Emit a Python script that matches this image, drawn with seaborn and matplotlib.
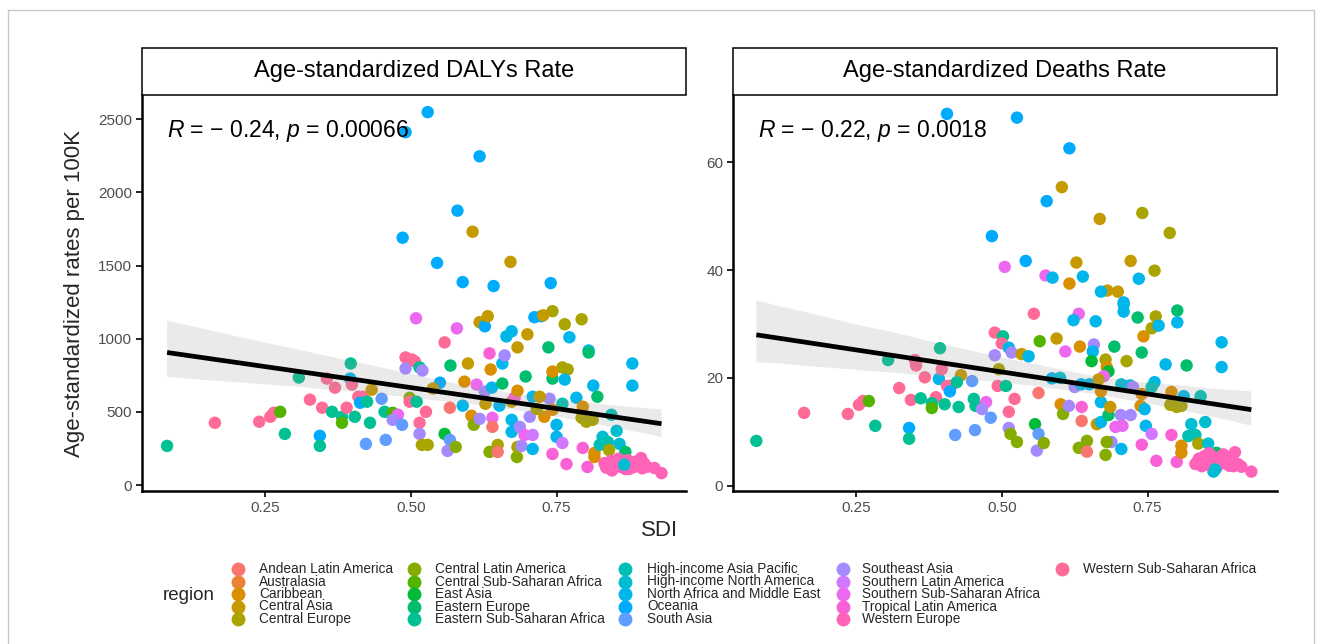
import numpy as np
import pandas as pd
import matplotlib
matplotlib.use("Agg")
import matplotlib.pyplot as plt
from matplotlib.patches import Rectangle
from matplotlib.lines import Line2D
from matplotlib.collections import PolyCollection
import seaborn as sns

# ---------------- data ----------------
region_names = [
    "Andean Latin America", "Australasia", "Caribbean", "Central Asia", "Central Europe",
    "Central Latin America", "Central Sub-Saharan Africa", "East Asia", "Eastern Europe",
    "Eastern Sub-Saharan Africa", "High-income Asia Pacific", "High-income North America",
    "North Africa and Middle East", "Oceania", "South Asia", "Southeast Asia",
    "Southern Latin America", "Southern Sub-Saharan Africa", "Tropical Latin America",
    "Western Europe", "Western Sub-Saharan Africa",
]
region_codes = ["AND", "AUS", "CAR", "CAS", "CEU", "CLA", "CSA", "EAS", "EEU", "ESA", "HAP",
                "HNA", "NAM", "OCE", "SAS", "SEA", "SLA", "SSA", "TLA", "WEU", "WSA"]

# Panel 1: Age-standardized DALYs rate
daly_sdi = [0.082, 0.164, 0.240, 0.259, 0.265, 0.276, 0.284, 0.308, 0.327, 0.344, 0.344, 0.348,
            0.356, 0.365, 0.370, 0.382, 0.382, 0.390, 0.396, 0.397, 0.399, 0.404, 0.410, 0.418,
            0.413, 0.423, 0.425, 0.430, 0.433, 0.450, 0.455, 0.469, 0.478, 0.469, 0.485, 0.457,
            0.491, 0.502, 0.507, 0.491, 0.515, 0.520, 0.498, 0.498, 0.510, 0.509, 0.526, 0.515,
            0.515, 0.519, 0.529, 0.550, 0.558, 0.568, 0.567, 0.558, 0.567, 0.563, 0.577, 0.579,
            0.589, 0.592, 0.598, 0.604, 0.608, 0.613, 0.618, 0.618, 0.627, 0.632, 0.627, 0.628,
            0.635, 0.637, 0.639, 0.640, 0.640, 0.635, 0.649, 0.649, 0.652, 0.657, 0.657, 0.661,
            0.664, 0.673, 0.673, 0.673, 0.673, 0.678, 0.682, 0.683, 0.683, 0.683, 0.687, 0.690,
            0.695, 0.697, 0.700, 0.704, 0.709, 0.709, 0.709, 0.712, 0.724, 0.736, 0.738, 0.743,
            0.743, 0.743, 0.750, 0.764, 0.793, 0.772, 0.805, 0.805, 0.760, 0.769, 0.743, 0.764,
            0.813, 0.820, 0.784, 0.760, 0.795, 0.793, 0.801, 0.812, 0.844, 0.729, 0.750, 0.880,
            0.880, 0.760, 0.767, 0.795, 0.803, 0.815, 0.815, 0.829, 0.853, 0.824, 0.838, 0.858,
            0.868, 0.840, 0.870, 0.529, 0.491, 0.618, 0.580, 0.606, 0.486, 0.545, 0.671, 0.589,
            0.642, 0.740, 0.727, 0.538, 0.721, 0.716, 0.743,
            0.832, 0.838, 0.843, 0.848, 0.852, 0.856, 0.860, 0.864, 0.868, 0.872, 0.876, 0.880,
            0.885, 0.890, 0.895, 0.900, 0.905, 0.918, 0.930, 0.845, 0.858,
            0.835, 0.850, 0.862, 0.874, 0.887, 0.897, 0.866]
daly_region = ["ESA", "WSA", "WSA", "WSA", "WSA", "CSA", "ESA", "ESA", "WSA", "OCE", "ESA", "WSA",
               "WSA", "ESA", "WSA", "ESA", "CSA", "WSA", "NAM", "ESA", "WSA", "ESA", "WSA", "WSA",
               "OCE", "SAS", "ESA", "ESA", "CAS", "SAS", "ESA", "CSA", "SSA", "SEA", "SAS", "SAS",
               "WSA", "WSA", "WSA", "SEA", "ESA", "SEA", "CLA", "WSA", "ESA", "SSA", "WSA", "WSA",
               "SEA", "CEU", "CEU", "OCE", "WSA", "EEU", "AND", "EAS", "SAS", "SEA", "CLA", "SSA",
               "NAM", "CAR", "CAS", "CAR", "CLA", "SSA", "SEA", "CAS", "OCE", "CAS", "SEA", "CAS",
               "TLA", "CAR", "NAM", "SSA", "AND", "CLA", "CEU", "AND", "NAM", "NAM", "EEU", "SEA",
               "NAM", "NAM", "CAS", "NAM", "NAM", "TLA", "CLA", "CEU", "CAS", "CAR", "SEA", "SEA",
               "SSA", "EEU", "CAS", "SEA", "SLA", "NAM", "NAM", "OCE", "OCE", "EEU", "SEA", "CEU",
               "EEU", "TLA", "NAM", "CEU", "CEU", "NAM", "NAM", "EEU", "CEU", "CEU", "CAR", "NAM",
               "NAM", "EEU", "NAM", "HAP", "CAR", "CEU", "CEU", "CEU", "HAP", "CAR", "NAM", "NAM",
               "NAM", "SLA", "TLA", "TLA", "TLA", "CAR", "CAR", "HNA", "HNA", "HAP", "HAP", "HNA",
               "EEU", "CEU", "HNA", "OCE", "OCE", "OCE", "OCE", "CAS", "OCE", "OCE", "CAS", "OCE",
               "OCE", "OCE", "CAS", "CAS", "CAS", "CEU", "CAR",
               "WEU", "WEU", "WEU", "WEU", "WEU", "WEU", "WEU", "WEU", "WEU", "WEU", "WEU", "WEU",
               "WEU", "WEU", "WEU", "WEU", "WEU", "WEU", "WEU", "WEU", "WEU",
               "WEU", "WEU", "WEU", "WEU", "WEU", "WEU", "HNA"]
daly_rate = [268, 426, 433, 467, 494, 501, 350, 735, 584, 337, 268, 529,
             728, 501, 666, 467, 426, 529, 728, 831, 687, 467, 604, 604,
             563, 282, 570, 426, 652, 590, 501, 494, 481, 446, 412, 309,
             872, 858, 845, 797, 804, 783, 597, 570, 570, 1140, 501, 426,
             350, 275, 275, 700, 975, 817, 529, 350, 309, 234, 261, 1071,
             543, 707, 831, 474, 412, 687, 453, 1113, 1085, 1154, 639, 556,
             900, 790, 666, 460, 398, 227, 275, 227, 543, 831, 694, 886,
             1016, 1051, 570, 446, 364, 597, 192, 261, 941, 645, 398, 268,
             343, 742, 1030, 467, 343, 604, 247, 1147, 1154, 941, 590, 1188,
             728, 213, 330, 1099, 1133, 1010, 920, 906, 804, 790, 776, 721,
             680, 604, 597, 556, 536, 460, 433, 446, 481, 467, 412, 831,
             680, 288, 144, 254, 124, 220, 192, 330, 371, 275, 295, 282,
             227, 240, 117, 2548, 2411, 2246, 1875, 1731, 1690, 1518, 1525, 1387,
             1360, 1380, 1160, 660, 604, 520, 515,
             150, 130, 165, 115, 145, 180, 125, 150, 110, 170, 135, 120,
             160, 140, 185, 150, 125, 117, 82, 100, 160,
             120, 135, 145, 110, 130, 115, 140]

# Panel 2: Age-standardized deaths rate
death_sdi = [0.079, 0.161, 0.236, 0.255, 0.262, 0.272, 0.283, 0.324, 0.344, 0.361, 0.341, 0.341,
             0.305, 0.351, 0.353, 0.368, 0.394, 0.392, 0.397, 0.430, 0.406, 0.414, 0.411, 0.423,
             0.387, 0.380, 0.402, 0.380, 0.426, 0.420, 0.449,
             0.555, 0.632, 0.623, 0.661, 0.709, 0.709, 0.733, 0.488, 0.502, 0.500, 0.512, 0.488,
             0.517, 0.534, 0.546, 0.565, 0.594, 0.609, 0.634, 0.658, 0.656, 0.654, 0.678, 0.680,
             0.683, 0.675, 0.714, 0.693, 0.740, 0.743, 0.495, 0.493, 0.507, 0.452, 0.455, 0.473,
             0.466, 0.481, 0.454, 0.522, 0.512, 0.512, 0.515, 0.526, 0.563, 0.586, 0.557, 0.563,
             0.560, 0.572, 0.601, 0.605, 0.615, 0.637, 0.637, 0.632, 0.646, 0.646, 0.663, 0.670,
             0.670, 0.704, 0.721, 0.683, 0.686, 0.695, 0.707, 0.688, 0.705, 0.678, 0.680, 0.747,
             0.740,
             0.600, 0.625, 0.636, 0.650, 0.666, 0.670, 0.705, 0.720, 0.725, 0.740,
             0.801, 0.801, 0.764, 0.757, 0.769, 0.781, 0.817, 0.877, 0.877, 0.762, 0.757, 0.791,
             0.789, 0.800, 0.808, 0.841, 0.812, 0.738, 0.745, 0.825, 0.849, 0.757, 0.791, 0.765,
             0.800, 0.820, 0.832, 0.837, 0.808, 0.808, 0.854, 0.868, 0.863,
             0.406, 0.526, 0.616, 0.603, 0.577, 0.668, 0.741, 0.788, 0.483, 0.505, 0.541, 0.628,
             0.721, 0.762, 0.575, 0.587, 0.639, 0.616, 0.735, 0.681, 0.699, 0.670, 0.709,
             0.832, 0.838, 0.843, 0.848, 0.852, 0.856, 0.860, 0.864, 0.868, 0.872, 0.876, 0.880,
             0.885, 0.890, 0.895, 0.900, 0.905, 0.911, 0.928, 0.845,
             0.835, 0.850, 0.862, 0.874, 0.887, 0.897, 0.866]
death_region = ["ESA", "WSA", "WSA", "WSA", "WSA", "CSA", "ESA", "WSA", "WSA", "ESA", "OCE", "ESA",
                "ESA", "WSA", "WSA", "WSA", "ESA", "NAM", "WSA", "CAS", "WSA", "WSA", "OCE", "ESA",
                "WSA", "ESA", "ESA", "CSA", "ESA", "SAS", "SAS",
                "WSA", "SSA", "NAM", "NAM", "NAM", "NAM", "EEU", "WSA", "ESA", "WSA", "NAM", "SEA",
                "SEA", "CAS", "NAM", "CSA", "CAS", "SSA", "CAR", "SEA", "NAM", "EAS", "CEU", "CAR",
                "EAS", "SSA", "CEU", "EEU", "EEU", "CAR", "CEU", "WSA", "ESA", "ESA", "ESA", "SSA",
                "SEA", "SAS", "SAS", "WSA", "WSA", "SEA", "CLA", "CLA", "AND", "NAM", "EAS", "SAS",
                "SEA", "CLA", "CAR", "CLA", "SEA", "TLA", "AND", "CLA", "CLA", "AND", "CAS", "NAM",
                "NAM", "SEA", "SEA", "EEU", "CAS", "SSA", "SSA", "SEA", "NAM", "CLA", "CLA", "NAM",
                "TLA",
                "HNA", "SEA", "NAM", "NAM", "CAS", "CAR", "HNA", "NAM", "SEA", "CAR",
                "EEU", "NAM", "CEU", "CEU", "NAM", "NAM", "EEU", "NAM", "NAM", "NAM", "HAP", "CAR",
                "CEU", "CEU", "CEU", "HAP", "NAM", "CAR", "NAM", "HNA", "HNA", "SLA", "TLA", "TLA",
                "TLA", "HAP", "HAP", "CEU", "CAR", "CAR", "HNA", "EEU", "HNA",
                "OCE", "OCE", "OCE", "CAS", "OCE", "CAS", "CEU", "CEU", "OCE", "SSA", "OCE", "CAS",
                "CAS", "CEU", "SSA", "NAM", "NAM", "CAR", "NAM", "CAS", "CAS", "NAM", "NAM",
                "WEU", "WEU", "WEU", "WEU", "WEU", "WEU", "WEU", "WEU", "WEU", "WEU", "WEU", "WEU",
                "WEU", "WEU", "WEU", "WEU", "WEU", "WEU", "WEU", "WEU",
                "WEU", "WEU", "WEU", "WEU", "WEU", "WEU", "HNA"]
death_rate = [8.3, 13.5, 13.3, 15.0, 15.7, 15.7, 11.1, 18.1, 15.9, 16.2, 10.7, 8.7,
              23.3, 23.3, 22.3, 20.1, 25.5, 19.8, 21.6, 20.5, 18.5, 18.6, 17.5, 19.2,
              16.4, 15.3, 15.1, 14.4, 14.6, 9.4, 19.4,
              31.9, 31.9, 30.7, 30.5, 33.6, 32.3, 31.2, 28.4, 27.7, 26.4, 25.6, 24.2,
              24.7, 24.4, 24.0, 26.8, 27.3, 24.9, 25.8, 26.2, 24.9, 23.1, 23.4, 22.0,
              21.2, 20.3, 23.1, 25.8, 24.7, 27.7, 21.6, 18.5, 18.5, 16.1, 14.8, 15.5,
              14.2, 12.6, 10.3, 16.1, 13.7, 10.7, 9.6, 8.1, 17.2, 19.9, 11.4, 9.6,
              6.5, 7.9, 15.1, 13.3, 14.8, 14.6, 12.0, 7.0, 8.3, 6.3, 11.4, 15.5,
              11.8, 13.1, 13.1, 13.1, 14.6, 10.9, 11.1, 8.1, 6.8, 5.7, 8.1, 11.1,
              7.6,
              20.0, 18.3, 18.8, 18.8, 19.7, 17.5, 18.8, 18.6, 18.3, 17.0,
              32.5, 30.3, 31.4, 29.2, 29.7, 22.5, 22.3, 26.6, 22.0, 19.2, 18.3, 17.4,
              15.0, 14.6, 14.8, 16.6, 16.6, 14.8, 14.2, 11.4, 11.8, 9.6, 9.4, 4.6,
              4.4, 9.2, 9.4, 7.8, 7.4, 6.1, 7.8, 6.1, 2.6,
              69.0, 68.3, 62.6, 55.4, 52.8, 49.5, 50.6, 46.9, 46.3, 40.6, 41.7, 41.4,
              41.7, 39.9, 39.0, 38.6, 38.8, 37.5, 38.4, 36.2, 36.0, 36.0, 34.0,
              4.0, 5.0, 3.6, 5.5, 4.3, 6.0, 3.8, 4.8, 3.3, 5.2, 4.1, 5.8,
              4.5, 3.7, 5.0, 6.2, 4.0, 3.5, 2.6, 4.6,
              4.4, 3.9, 5.3, 4.2, 4.9, 3.6, 3.0]

panel_titles = ["Age-standardized DALYs Rate", "Age-standardized Deaths Rate"]
stat_labels = [r"$R$ = − 0.24, $p$ = 0.00066", r"$R$ = − 0.22, $p$ = 0.0018"]
x_ticks = [0.25, 0.50, 0.75]
x_tick_labels = ["0.25", "0.50", "0.75"]
y_ticks_daly = [0, 500, 1000, 1500, 2000, 2500]
y_ticks_death = [0, 20, 40, 60]

# ---------------- colours (ggplot2 hue palette) ----------------
def hcl_hex(h, c=100.0, l=65.0):
    hr = np.deg2rad(h)
    U, V = c * np.cos(hr), c * np.sin(hr)
    Xn, Yn, Zn = 95.047, 100.0, 108.883
    Y = Yn * ((l + 16) / 116) ** 3
    den = Xn + 15 * Yn + 3 * Zn
    un, vn = 4 * Xn / den, 9 * Yn / den
    u = U / (13 * l) + un
    v = V / (13 * l) + vn
    X = 9.0 * Y * u / (4 * v)
    Z = Y * (12 - 3 * u - 20 * v) / (4 * v)
    x, y, z = X / 100, Y / 100, Z / 100
    rgb = np.array([3.240479 * x - 1.537150 * y - 0.498535 * z,
                    -0.969256 * x + 1.875992 * y + 0.041556 * z,
                    0.055648 * x - 0.204043 * y + 1.057311 * z])
    rgb = np.where(rgb <= 0.0031308, 12.92 * rgb, 1.055 * np.abs(rgb) ** (1 / 2.4) - 0.055)
    rgb = np.clip(rgb, 0, 1)
    return matplotlib.colors.to_hex(rgb)

hues = np.linspace(15, 375, len(region_names) + 1)[:-1]
palette = {name: hcl_hex(h) for name, h in zip(region_names, hues)}
code_to_name = dict(zip(region_codes, region_names))

df_daly = pd.DataFrame({"SDI": daly_sdi, "value": daly_rate,
                        "region": [code_to_name[c] for c in daly_region]})
df_death = pd.DataFrame({"SDI": death_sdi, "value": death_rate,
                         "region": [code_to_name[c] for c in death_region]})

# ---------------- figure ----------------
sns.set_style("ticks")
plt.rcParams["font.family"] = ["Liberation Sans", "DejaVu Sans"]
plt.rcParams["mathtext.fontset"] = "custom"
plt.rcParams["mathtext.rm"] = "Liberation Sans"
plt.rcParams["mathtext.it"] = "Liberation Sans:italic"

W, H = 1322, 644
fig = plt.figure(figsize=(W / 100, H / 100), dpi=100)
fig.patch.set_facecolor("white")

def fx(px):
    return px / W

def fy(py):
    return 1 - py / H

# outer light frame
fig.add_artist(Rectangle((fx(8), fy(660)), fx(1314) - fx(8), fy(10) - fy(660),
                         transform=fig.transFigure, fill=False, edgecolor="#c8c8c8", lw=1.0))

ax_left = [142, 733]
ax_w = 544
ax_top, ax_bot = 95, 491
axes = []
for i, (df, ylim, yt) in enumerate([(df_daly, (-40, 2665), y_ticks_daly),
                                     (df_death, (-1.0, 72.5), y_ticks_death)]):
    ax = fig.add_axes([fx(ax_left[i]), fy(ax_bot), ax_w / W, (ax_bot - ax_top) / H])
    axes.append(ax)
    sns.scatterplot(data=df, x="SDI", y="value", hue="region", hue_order=region_names,
                    palette=palette, s=80, linewidth=0, alpha=1, ax=ax, legend=False)
    sns.regplot(data=df, x="SDI", y="value", scatter=False, ax=ax, color="#999999",
                seed=1, line_kws={"color": "black", "lw": 3.4, "solid_capstyle": "butt"})
    for coll in ax.collections:
        if isinstance(coll, PolyCollection):
            coll.set_facecolor("#999999")
            coll.set_alpha(0.2)
            coll.set_edgecolor("none")
    ax.set_xlim(0.039, 0.972)
    ax.set_ylim(*ylim)
    ax.set_xticks(x_ticks)
    ax.set_xticklabels(x_tick_labels)
    ax.set_yticks(yt)
    ax.set_yticklabels([str(v) for v in yt])
    ax.set_xlabel("")
    ax.set_ylabel("")
    for s in ["top", "right"]:
        ax.spines[s].set_visible(False)
    for s in ["left", "bottom"]:
        ax.spines[s].set_linewidth(1.8)
        ax.spines[s].set_color("black")
    ax.tick_params(axis="both", length=4, width=1.2, color="black",
                   labelsize=11, labelcolor="#4d4d4d", pad=3)
    ax.text(0.046, 0.909, stat_labels[i], transform=ax.transAxes, fontsize=16.5,
            ha="left", va="center", color="black")
    # facet strip
    fig.add_artist(Rectangle((fx(ax_left[i]), fy(ax_top)), ax_w / W, (ax_top - 48) / H,
                             transform=fig.transFigure, facecolor="white",
                             edgecolor="black", lw=1.1))
    fig.text(fx(ax_left[i] + ax_w / 2), fy((48 + ax_top) / 2), panel_titles[i],
             ha="center", va="center", fontsize=17, color="black")

fig.text(fx(75), fy((ax_top + ax_bot) / 2), "Age-standardized rates per 100K",
         rotation=90, ha="center", va="center", fontsize=16)
fig.text(fx(660), fy(530), "SDI", ha="center", va="center", fontsize=16)

# legend (ggplot style, column-major, 5 rows)
fig.text(fx(189), fy(595), "region", ha="center", va="center", fontsize=13.5)
dot_x = [238, 414, 625, 843, 1062]
text_x = [259, 435, 647, 862, 1083]
row_y = [569, 581.5, 594, 606.5, 619]
for k, name in enumerate(region_names):
    col, row = divmod(k, 5)
    fig.add_artist(Line2D([fx(dot_x[col])], [fy(row_y[row])], transform=fig.transFigure,
                          marker="o", markersize=10, markeredgewidth=0,
                          color=palette[name], linestyle="none"))
    fig.text(fx(text_x[col]), fy(row_y[row]), name, ha="left", va="center", fontsize=9.8)

fig.savefig("out.png", dpi=100)
